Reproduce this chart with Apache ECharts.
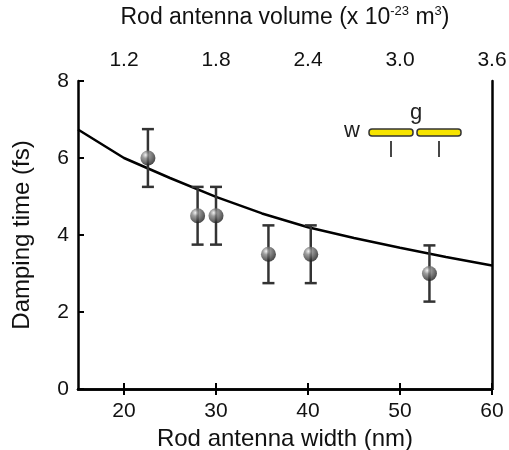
<!DOCTYPE html>
<html>
<head>
<meta charset="utf-8">
<script src="https://cdn.jsdelivr.net/npm/echarts@6/dist/echarts.min.js"></script>
<style>
  html, body { margin: 0; padding: 0; background: #fff; }
  #chart { width: 509px; height: 450px; }
</style>
</head>
<body>
<div id="chart"></div>
<script>
// measured points
var widths = [22.6, 28.0, 30.0, 35.7, 40.3, 53.2];
var times = [6.0, 4.5, 4.5, 3.5, 3.5, 3.0];
var errors = [0.75, 0.75, 0.75, 0.75, 0.75, 0.73];

// model curve
var curveWidths = [15, 20, 25, 30, 35, 40, 45, 50, 55, 60];
var curveTimes = [6.74, 6.0, 5.48, 4.99, 4.56, 4.2, 3.92, 3.67, 3.43, 3.21];

var widthTicks = [20, 30, 40, 50, 60];
var volumeTicks = [1.2, 1.8, 2.4, 3.0, 3.6];

var font = 'Liberation Sans, Arial, sans-serif';
var chart = echarts.init(document.getElementById('chart'));

var option = {
  animation: false,
  textStyle: { fontFamily: font },
  grid: { left: 78, top: 81, right: 17, bottom: 61, outerBoundsMode: 'none' },
  xAxis: [{
    type: 'value',
    min: 15,
    max: 60,
    position: 'bottom',
    name: 'Rod antenna width (nm)',
    nameLocation: 'middle',
    nameGap: 35,
    nameTextStyle: { fontSize: 24, color: '#111', fontFamily: font },
    axisLine: { lineStyle: { color: '#000', width: 2.5 } },
    axisTick: { inside: true, length: 6, lineStyle: { color: '#000', width: 2 }, customValues: widthTicks },
    axisLabel: { fontSize: 21, color: '#111', margin: 12, customValues: widthTicks },
    splitLine: { show: false }
  }, {
    type: 'value',
    min: 0.9,
    max: 3.6,
    position: 'top',
    name: '{a|Rod antenna volume (x 10}{s|-23}{a| m}{s|3}{a|)}',
    nameLocation: 'middle',
    nameGap: 52,
    nameTextStyle: {
      rich: {
        a: { fontSize: 23, color: '#111', fontFamily: font, lineHeight: 24, verticalAlign: 'bottom' },
        s: { fontSize: 13, color: '#111', fontFamily: font, lineHeight: 24, verticalAlign: 'top' }
      }
    },
    axisLine: { lineStyle: { color: '#000', width: 2.5 } },
    axisTick: { inside: true, length: 6, lineStyle: { color: '#000', width: 2 }, customValues: volumeTicks },
    axisLabel: {
      fontSize: 21, color: '#111', margin: 10, customValues: volumeTicks,
      formatter: function (v) { return v.toFixed(1); }
    },
    splitLine: { show: false }
  }],
  yAxis: [{
    type: 'value',
    min: 0,
    max: 8,
    interval: 2,
    name: 'Damping time (fs)',
    nameLocation: 'middle',
    nameGap: 44,
    nameTextStyle: { fontSize: 24, color: '#111', fontFamily: font },
    axisLine: { show: true, lineStyle: { color: '#000', width: 2.5 } },
    axisTick: { inside: true, length: 6, lineStyle: { color: '#000', width: 2 } },
    axisLabel: { fontSize: 21, color: '#111', margin: 9 },
    splitLine: { show: false }
  }, {
    type: 'value',
    min: 0,
    max: 8,
    position: 'right',
    axisLine: { show: true, lineStyle: { color: '#000', width: 2.5 } },
    axisTick: { show: false },
    axisLabel: { show: false },
    splitLine: { show: false }
  }],
  series: [{
    type: 'line',
    data: curveWidths.map(function (w, i) { return [w, curveTimes[i]]; }),
    symbol: 'none',
    lineStyle: { color: '#000', width: 2.5 },
    z: 2
  }, {
    type: 'custom',
    data: widths.map(function (w, i) { return [w, times[i] - errors[i], times[i] + errors[i]]; }),
    renderItem: function (params, api) {
      var lo = api.coord([api.value(0), api.value(1)]);
      var hi = api.coord([api.value(0), api.value(2)]);
      var cap = 6;
      var st = { stroke: '#333', lineWidth: 2.5 };
      return {
        type: 'group',
        children: [
          { type: 'line', shape: { x1: lo[0], y1: lo[1], x2: hi[0], y2: hi[1] }, style: st },
          { type: 'line', shape: { x1: lo[0] - cap, y1: lo[1], x2: lo[0] + cap, y2: lo[1] }, style: st },
          { type: 'line', shape: { x1: hi[0] - cap, y1: hi[1], x2: hi[0] + cap, y2: hi[1] }, style: st }
        ]
      };
    },
    z: 3
  }, {
    type: 'scatter',
    data: widths.map(function (w, i) { return [w, times[i]]; }),
    symbolSize: 15,
    itemStyle: {
      color: new echarts.graphic.RadialGradient(0.35, 0.3, 0.75, [
        { offset: 0, color: '#eeeeee' },
        { offset: 0.3, color: '#858585' },
        { offset: 1, color: '#151515' }
      ])
    },
    z: 4
  }],
  graphic: [
    { type: 'text', left: 344, top: 120, style: { text: 'w', fontSize: 22, fill: '#222', fontFamily: font } },
    { type: 'text', left: 410, top: 102, style: { text: 'g', fontSize: 22, fill: '#222', fontFamily: font } },
    { type: 'rect', shape: { x: 369, y: 129, width: 44, height: 7, r: 3 }, style: { fill: '#f7e400', stroke: '#333', lineWidth: 1.5 } },
    { type: 'rect', shape: { x: 417, y: 129, width: 44, height: 7, r: 3 }, style: { fill: '#f7e400', stroke: '#333', lineWidth: 1.5 } },
    { type: 'line', shape: { x1: 391, y1: 141, x2: 391, y2: 157 }, style: { stroke: '#333', lineWidth: 1.8 } },
    { type: 'line', shape: { x1: 439, y1: 141, x2: 439, y2: 157 }, style: { stroke: '#333', lineWidth: 1.8 } }
  ]
};

chart.setOption(option);
</script>
</body>
</html>
